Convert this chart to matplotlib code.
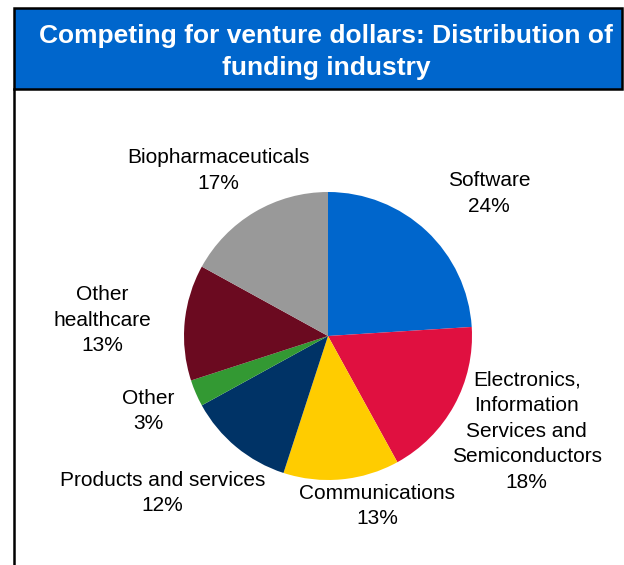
import matplotlib.pyplot as plt
from matplotlib.patches import Rectangle
from matplotlib.lines import Line2D

plt.rcParams['font.family'] = ['Liberation Sans', 'DejaVu Sans']

# industries in clockwise order starting at 12 o'clock
sectors = ['Software', 'Electronics,\nInformation\nServices and\nSemiconductors',
           'Communications', 'Products and services', 'Other',
           'Other\nhealthcare', 'Biopharmaceuticals']
shares = [24, 18, 13, 12, 3, 13, 17]
colors = ['#0066CC', '#E01040', '#FFCC00', '#003366', '#339933', '#6B0A20', '#999999']
# where each label sits, in pie radius units from the centre
label_xy = [(1.12, 0.99), (1.38, -0.66), (0.34, -1.18), (-1.15, -1.09),
            (-1.25, -0.52), (-1.57, 0.11), (-0.76, 1.15)]

W, H = 624, 565
cx, cy, r = 328, 336, 144

fig = plt.figure(figsize=(W / 100, H / 100), dpi=100)
ax = fig.add_axes([0, 0, 1, 1])
ax.pie(shares, colors=colors, startangle=90, counterclock=False, radius=1)
ax.set_xlim(-cx / r, (W - cx) / r)
ax.set_ylim((cy - H) / r, cy / r)
ax.set_aspect('auto')
ax.axis('off')

for name, val, (x, y) in zip(sectors, shares, label_xy):
    ax.text(x, y, f'{name}\n{val}%', ha='center', va='center',
            fontsize=15, linespacing=1.45)

# title banner
fig.patches.append(Rectangle((14 / W, 1 - 89 / H), (622 - 14) / W, (89 - 8) / H,
                             transform=fig.transFigure, facecolor='#0066CC',
                             edgecolor='black', linewidth=1.8))
fig.text(326 / W, 1 - 52 / H, 'Competing for venture dollars: Distribution of\nfunding industry',
         ha='center', va='center', color='white', fontsize=19, fontweight='bold',
         linespacing=1.45)
fig.lines.append(Line2D([14 / W, 14 / W], [1 - 89 / H, 0], transform=fig.transFigure,
                        color='black', linewidth=1.8))

fig.savefig('out.png', dpi=100)
